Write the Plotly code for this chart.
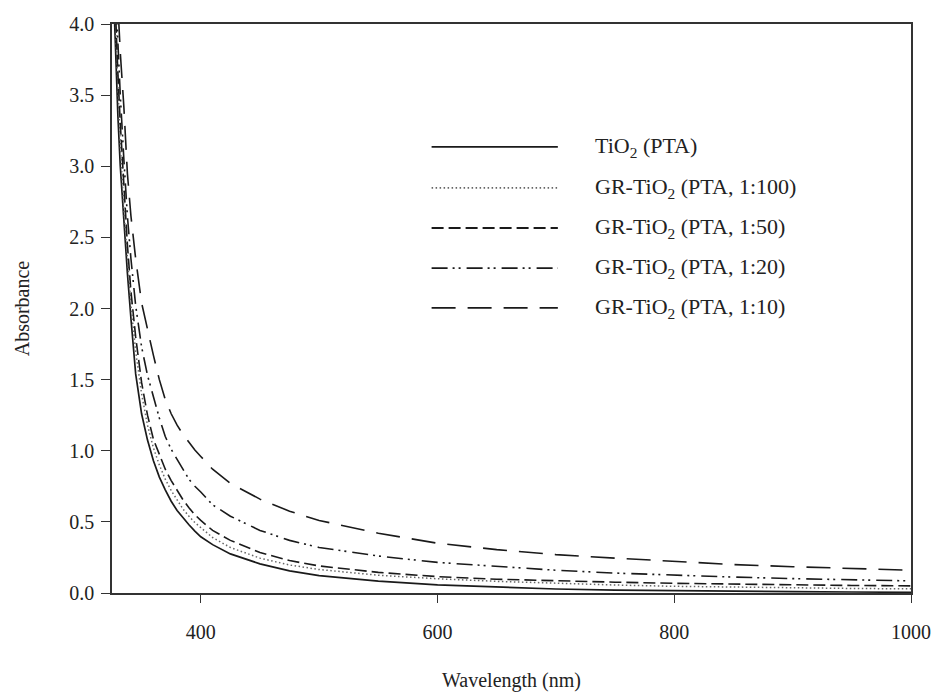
import plotly.graph_objects as go

wavelength = [326, 328, 330, 332, 335, 338, 341, 345, 350, 355, 360, 365, 370, 375, 380, 385,
              390, 395, 400, 410, 425, 450, 475, 500, 550, 600, 650, 700, 750, 800, 850, 900, 950, 1000]

tio2_pta = [4.3, 3.8, 3.35, 3.0, 2.6, 2.25, 1.93, 1.54, 1.26, 1.075, 0.93, 0.815, 0.725, 0.645, 0.58, 0.528,
            0.48, 0.435, 0.395, 0.34, 0.275, 0.205, 0.155, 0.122, 0.083, 0.057, 0.04, 0.028, 0.02, 0.015, 0.012, 0.009, 0.007, 0.005]

gr_1_100 = [4.4, 3.95, 3.55, 3.15, 2.7, 2.33, 2.02, 1.7, 1.4, 1.18, 1.02, 0.9, 0.8, 0.72, 0.65, 0.59,
            0.54, 0.495, 0.46, 0.39, 0.32, 0.245, 0.197, 0.165, 0.125, 0.1, 0.082, 0.068, 0.056, 0.047, 0.041, 0.036, 0.032, 0.029]

gr_1_50 = [4.5, 4.05, 3.65, 3.3, 2.85, 2.45, 2.12, 1.8, 1.48, 1.25, 1.08, 0.97, 0.87, 0.79, 0.72, 0.655,
           0.6, 0.55, 0.51, 0.44, 0.37, 0.285, 0.228, 0.19, 0.145, 0.115, 0.097, 0.085, 0.076, 0.068, 0.062, 0.057, 0.053, 0.05]

gr_1_20 = [4.6, 4.2, 3.85, 3.5, 3.05, 2.65, 2.35, 2.02, 1.73, 1.53, 1.38, 1.23, 1.1, 1.01, 0.94, 0.865,
           0.8, 0.75, 0.71, 0.62, 0.54, 0.44, 0.37, 0.32, 0.26, 0.215, 0.185, 0.16, 0.14, 0.125, 0.112, 0.101, 0.092, 0.085]

gr_1_10 = [4.8, 4.45, 4.1, 3.8, 3.42, 2.95, 2.65, 2.35, 2.04, 1.85, 1.67, 1.5, 1.36, 1.26, 1.18, 1.115,
           1.06, 1.005, 0.96, 0.87, 0.77, 0.66, 0.575, 0.51, 0.42, 0.35, 0.305, 0.27, 0.245, 0.22, 0.2, 0.185, 0.17, 0.16]

series_names = ["TiO<sub>2</sub> (PTA)",
                "GR-TiO<sub>2</sub> (PTA, 1:100)",
                "GR-TiO<sub>2</sub> (PTA, 1:50)",
                "GR-TiO<sub>2</sub> (PTA, 1:20)",
                "GR-TiO<sub>2</sub> (PTA, 1:10)"]
series_values = [tio2_pta, gr_1_100, gr_1_50, gr_1_20, gr_1_10]

x_ticks = [400, 600, 800, 1000]
y_ticks = [0.0, 0.5, 1.0, 1.5, 2.0, 2.5, 3.0, 3.5, 4.0]

styles = [
    dict(color="#1a1a1a", width=1.7, dash="solid"),
    dict(color="#666666", width=1.5, dash="1.5px,2.5px"),
    dict(color="#1a1a1a", width=1.6, dash="12px,5px"),
    dict(color="#1a1a1a", width=1.6, dash="16px,5px,2px,4px,2px,6px"),
    dict(color="#1a1a1a", width=1.6, dash="24px,12px"),
]

FONT = "Liberation Serif, Times New Roman, serif"

fig = go.Figure()
for name, vals, st in zip(series_names, series_values, styles):
    fig.add_trace(go.Scatter(x=wavelength, y=vals, mode="lines", name=name,
                             line=dict(color=st["color"], width=st["width"], dash=st["dash"]),
                             showlegend=False))

# manual legend (paper coordinates)
leg_rows = [0.784, 0.712, 0.6415, 0.571, 0.501]
shapes = []
annotations = []
for name, st, yy in zip(series_names, styles, leg_rows):
    shapes.append(dict(type="line", xref="paper", yref="paper", x0=0.4, x1=0.558, y0=yy, y1=yy,
                       line=dict(color=st["color"], width=st["width"] + 0.2, dash=st["dash"])))
    annotations.append(dict(xref="paper", yref="paper", x=0.602, y=yy, xanchor="left", yanchor="middle",
                            text=name, showarrow=False, font=dict(family=FONT, size=22, color="#222")))

fig.update_layout(
    width=933, height=690,
    margin=dict(l=104, r=30, t=16, b=105),
    paper_bgcolor="white", plot_bgcolor="white",
    font=dict(family=FONT, size=20, color="#222"),
    shapes=shapes, annotations=annotations,
    showlegend=False,
)
fig.update_xaxes(range=[325, 1000], tickvals=x_ticks, ticks="outside", ticklen=8, tickwidth=1.3,
                 tickcolor="#333", showline=True, linecolor="#333", linewidth=1.5, mirror=True,
                 showgrid=False, zeroline=False, ticklabelstandoff=12, automargin=False,
                 title=dict(text="Wavelength (nm)", standoff=31, font=dict(size=20)),
                 tickfont=dict(size=20))
fig.update_yaxes(range=[0, 4], tickvals=y_ticks, tickformat=".1f", ticks="outside", ticklen=9, tickwidth=1.3,
                 tickcolor="#333", showline=True, linecolor="#333", linewidth=1.5, mirror=True,
                 showgrid=False, zeroline=False, ticklabelstandoff=3, automargin=False,
                 title=dict(text="Absorbance", standoff=34, font=dict(size=20)),
                 tickfont=dict(size=20))

fig.write_html("out.html")
